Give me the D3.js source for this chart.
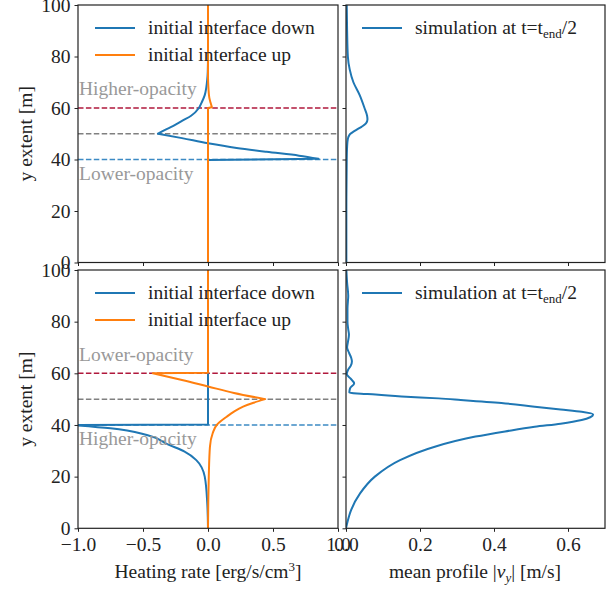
<!DOCTYPE html>
<html>
<head>
<meta charset="utf-8">
<script src="https://cdn.jsdelivr.net/npm/d3@7"></script>
<style>
  body { margin: 0; background: #fff; }
</style>
</head>
<body>
<svg id="chart" width="616" height="590" font-family="Liberation Serif, Times New Roman, serif"></svg>
<script>
// heating rate profiles, opacity interface initially down (top row)
var downTopY = [100, 80, 74, 71, 68, 65, 62, 60, 57, 55, 53, 51.5, 50, 48.3, 46.3, 44.5, 43, 41.5, 40.3, 39.8, 0];
var downTopX = [0, 0, -0.002, -0.006, -0.013, -0.025, -0.05, -0.07, -0.13, -0.2, -0.27, -0.33, -0.385, -0.2, 0, 0.22, 0.45, 0.7, 0.85, 0, 0];
var upTopY = [100, 72, 68, 64, 62, 60.3, 60, 0];
var upTopX = [0, 0, 0.003, 0.01, 0.02, 0.03, 0, 0];

// heating rate profiles, opacity interface initially up (bottom row)
var downBotY = [100, 40.2, 40.0, 38.7, 36.1, 32.3, 29.7, 26.4, 20, 10, 0];
var downBotX = [0, 0, -1.05, -0.75, -0.47, -0.3, -0.18, -0.09, -0.025, -0.006, 0];
var upBotY = [100, 60.2, 60.0, 57.4, 54.9, 52.4, 50, 48.6, 47.1, 45.2, 43.2, 40, 36.8, 31.6, 20, 10, 0];
var upBotX = [0, 0, -0.425, -0.2, 0, 0.2, 0.44, 0.35, 0.27, 0.2, 0.144, 0.067, 0.036, 0.015, 0.006, 0.002, 0];

// mean |v_y| at t = t_end/2
var velTopY = [100, 90, 80, 75, 70, 65, 60, 57, 55.5, 54, 52.7, 51.5, 50.8, 50, 49.5, 48, 45, 40, 20, 0];
var velTopX = [0.002, 0.003, 0.005, 0.01, 0.02, 0.037, 0.05, 0.057, 0.058, 0.054, 0.042, 0.028, 0.02, 0.012, 0.009, 0.005, 0.003, 0.002, 0.001, 0.001];
var velBotY = [100, 95, 90, 85, 80, 77, 75, 72, 70, 68, 66, 64.6, 63, 61.5, 59.7, 58, 56.1, 54.2, 52.6, 52.2, 51.8, 51.0, 50.3, 49.7, 48.5, 47.1, 46, 45.1, 44.1, 43, 41.9, 40.5, 39.3, 37.5, 35.5, 31.6, 26.4, 20, 13.5, 7.1, 3, 0];
var velBotX = [0.001, 0.003, 0.006, 0.004, 0.004, 0.006, 0.008, 0.005, 0.003, 0.008, 0.014, 0.016, 0.013, 0.006, 0.002, 0.012, 0.022, 0.011, 0.009, 0.03, 0.08, 0.15, 0.25, 0.31, 0.42, 0.51, 0.58, 0.637, 0.668, 0.66, 0.637, 0.58, 0.51, 0.43, 0.35, 0.24, 0.146, 0.078, 0.038, 0.014, 0.005, 0];

var interfaceLevels = [60, 50, 40];
var interfaceColors = ["#b0183c", "#808080", "#3c8ac4"];

var heatTicks = [-1.0, -0.5, 0.0, 0.5, 1.0];
var velTicks = [0, 0.2, 0.4, 0.6];
var yTicks = [0, 20, 40, 60, 80, 100];

// corners = indices where a profile has a kink (drawn smooth in between)
var rows = [
  {top: 5, bottom: 262.5,
   down: [downTopX, downTopY, [12, 18, 19]], up: [upTopX, upTopY, [5, 6]], vel: [velTopX, velTopY, []],
   notes: [["Higher-opacity", 65], ["Lower-opacity", 32]], xlabels: false},
  {top: 270, bottom: 528.3,
   down: [downBotX, downBotY, [1, 2]], up: [upBotX, upBotY, [1, 2, 6]], vel: [velBotX, velBotY, []],
   notes: [["Lower-opacity", 64.8], ["Higher-opacity", 32.3]], xlabels: true}
];

var blue = "#1f77b4", orange = "#ff7f0e", ink = "#222";
var fs = 19.5;
var svg = d3.select("#chart");
var defs = svg.append("defs");

var xHeat = d3.scaleLinear().domain([-1, 1]).range([78, 338]);
var xVel = d3.scaleLinear().domain([0, 0.7]).range([346, 605]);

function drawProfile(g, s, xs, y, color) {
  var p = s[0].map(function(v, i) { return [v, s[1][i]]; });
  var cuts = [0].concat(s[2], [p.length - 1]);
  var line = d3.line().curve(d3.curveMonotoneY)
    .x(function(d) { return xs(d[0]); }).y(function(d) { return y(d[1]); });
  var d = "";
  for (var k = 0; k < cuts.length - 1; k++) {
    var part = p.slice(cuts[k], cuts[k + 1] + 1);
    var seg = part.length > 2 ? line(part) : d3.line().x(function(q) { return xs(q[0]); }).y(function(q) { return y(q[1]); })(part);
    d += k === 0 ? seg : "L" + seg.slice(1);
  }
  g.append("path").attr("d", d).attr("fill", "none").attr("stroke", color)
    .attr("stroke-width", 2).attr("stroke-linejoin", "round");
}

rows.forEach(function(r, ri) {
  var y = d3.scaleLinear().domain([0, 100]).range([r.bottom, r.top]);

  [["heat", xHeat], ["vel", xVel]].forEach(function(p) {
    var xr = p[1].range();
    defs.append("clipPath").attr("id", "clip" + ri + p[0]).append("rect")
      .attr("x", xr[0]).attr("y", r.top).attr("width", xr[1] - xr[0]).attr("height", r.bottom - r.top);
  });

  // left panel: dashed interface markers + heating profiles
  var gl = svg.append("g").attr("clip-path", "url(#clip" + ri + "heat)");
  interfaceLevels.forEach(function(lv, i) {
    gl.append("line").attr("x1", xHeat(-1)).attr("x2", xHeat(1))
      .attr("y1", y(lv)).attr("y2", y(lv))
      .attr("stroke", interfaceColors[i]).attr("stroke-width", 1.5)
      .attr("stroke-dasharray", "5.5,2.4");
  });
  drawProfile(gl, r.down, xHeat, y, blue);
  drawProfile(gl, r.up, xHeat, y, orange);

  r.notes.forEach(function(n) {
    svg.append("text").attr("x", xHeat(-1) + 1).attr("y", y(n[1]))
      .attr("fill", "#999").style("font-size", fs + "px").text(n[0]);
  });

  // right panel: velocity profile
  var gr = svg.append("g").attr("clip-path", "url(#clip" + ri + "vel)");
  drawProfile(gr, r.vel, xVel, y, blue);

  // axes
  var axes = [];
  axes.push(svg.append("g").attr("transform", "translate(78,0)")
    .call(d3.axisLeft(y).tickValues(yTicks).tickSize(3.5).tickPadding(4).tickFormat(d3.format("d"))));
  axes.push(svg.append("g").attr("transform", "translate(346,0)")
    .call(d3.axisLeft(y).tickValues(yTicks).tickSize(3.5).tickFormat("")));
  axes.push(svg.append("g").attr("transform", "translate(0," + r.bottom + ")")
    .call(d3.axisBottom(xHeat).tickValues(heatTicks).tickSize(3.5).tickPadding(5)
      .tickFormat(r.xlabels ? function(d) { return d3.format(".1f")(d).replace("-", "\u2212"); } : "")));
  axes.push(svg.append("g").attr("transform", "translate(0," + r.bottom + ")")
    .call(d3.axisBottom(xVel).tickValues(velTicks).tickSize(3.5).tickPadding(5)
      .tickFormat(r.xlabels ? d3.format(".1f") : "")));
  axes.forEach(function(g) {
    g.attr("font-family", null).attr("font-size", null);
    g.select(".domain").remove();
    g.selectAll(".tick text").attr("fill", ink).style("font-size", fs + "px");
    g.selectAll(".tick line").attr("stroke", ink);
  });

  // frames
  [xHeat, xVel].forEach(function(xs) {
    var xr = xs.range();
    svg.append("rect").attr("x", xr[0]).attr("y", r.top).attr("width", xr[1] - xr[0]).attr("height", r.bottom - r.top)
      .attr("fill", "none").attr("stroke", ink).attr("stroke-width", 1.2);
  });

  // y label
  svg.append("text").attr("transform", "translate(25," + ((r.top + r.bottom) / 2) + ") rotate(-90)")
    .attr("text-anchor", "middle").attr("dy", "0.35em").attr("fill", ink)
    .style("font-size", fs + "px").text("y extent [m]");

  // legends
  var ly = r.top + 23;
  [[blue, "initial interface down"], [orange, "initial interface up"]].forEach(function(e, i) {
    svg.append("line").attr("x1", 95).attr("x2", 135).attr("y1", ly + i * 27).attr("y2", ly + i * 27)
      .attr("stroke", e[0]).attr("stroke-width", 2);
    svg.append("text").attr("x", 148).attr("y", ly + i * 27).attr("dy", "0.32em").attr("fill", ink)
      .style("font-size", fs + "px").text(e[1]);
  });
  svg.append("line").attr("x1", 362).attr("x2", 402).attr("y1", ly).attr("y2", ly)
    .attr("stroke", blue).attr("stroke-width", 2);
  var st = svg.append("text").attr("x", 415).attr("y", ly).attr("dy", "0.32em").attr("fill", ink)
    .style("font-size", fs + "px");
  st.append("tspan").text("simulation at t=t");
  st.append("tspan").attr("dy", "4").style("font-size", "13px").text("end");
  st.append("tspan").attr("dy", "-4").text("/2");
});

// x labels
var hl = svg.append("text").attr("x", 208).attr("y", 578).attr("text-anchor", "middle")
  .attr("fill", ink).style("font-size", fs + "px");
hl.append("tspan").text("Heating rate [erg/s/cm");
hl.append("tspan").attr("dy", "-7").style("font-size", "13px").text("3");
hl.append("tspan").attr("dy", "7").text("]");

var vl = svg.append("text").attr("x", 475).attr("y", 578).attr("text-anchor", "middle")
  .attr("fill", ink).style("font-size", fs + "px");
vl.append("tspan").text("mean profile |");
vl.append("tspan").style("font-style", "italic").text("v");
vl.append("tspan").attr("dy", "4").style("font-size", "13px").style("font-style", "italic").text("y");
vl.append("tspan").attr("dy", "-4").text("| [m/s]");
</script>
</body>
</html>
